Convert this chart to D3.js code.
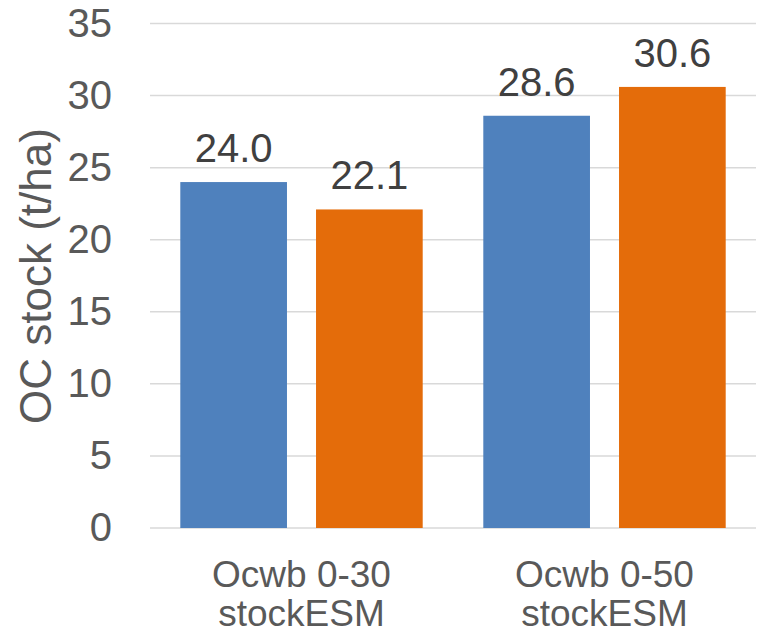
<!DOCTYPE html>
<html>
<head>
<meta charset="utf-8">
<script src="https://cdn.jsdelivr.net/npm/d3@7"></script>
<style>
  html, body { margin: 0; padding: 0; background: #fff; }
  svg { display: block; font-family: "Liberation Sans", Arial, sans-serif; }
</style>
</head>
<body>
<svg id="chart" width="759" height="633"></svg>
<script>
// Organic carbon stock by depth interval
const categories = ["Ocwb 0-30\nstockESM", "Ocwb 0-50\nstockESM"];
const seriesNames = ["blue", "orange"];
const seriesA = [24.0, 28.6];
const seriesB = [22.1, 30.6];
const yTicks = [0, 5, 10, 15, 20, 25, 30, 35];
const yTitle = "OC stock (t/ha)";
const colors = ["#4f81bd", "#e46c0a"];

const svg = d3.select("#chart");
const plotLeft = 150, plotRight = 756, plotTop = 23.5, plotBottom = 528;

const y = d3.scaleLinear().domain([0, 35]).range([plotBottom, plotTop]);
const x0 = d3.scaleBand().domain(categories).range([plotLeft, plotRight])
  .paddingInner(0.2).paddingOuter(0.1);
const x1 = d3.scaleBand().domain(seriesNames).range([0, x0.bandwidth()])
  .paddingInner(0.214).paddingOuter(0);

// gridlines
svg.append("g")
  .selectAll("line").data(yTicks).join("line")
  .attr("x1", plotLeft).attr("x2", plotRight)
  .attr("y1", d => y(d)).attr("y2", d => y(d))
  .attr("stroke", "#d9d9d9").attr("stroke-width", 1.5);

// y axis tick labels
const yAxis = d3.axisLeft(y).tickValues(yTicks).tickSize(0).tickPadding(0);
const ga = svg.append("g").attr("transform", "translate(112,0)").call(yAxis);
ga.select(".domain").remove();
ga.selectAll("text")
  .attr("font-size", 40).attr("fill", "#595959")
  .attr("font-family", "Liberation Sans, Arial, sans-serif");

// y axis title
svg.append("text")
  .attr("transform", "translate(51,276) rotate(-90)")
  .attr("text-anchor", "middle")
  .attr("font-size", 44).attr("fill", "#595959")
  .text(yTitle);

// bars
const rows = categories.map((c, i) => ({ cat: c, vals: [seriesA[i], seriesB[i]] }));
const groups = svg.append("g").selectAll("g").data(rows).join("g")
  .attr("transform", d => `translate(${x0(d.cat)},0)`);

groups.selectAll("rect").data(d => d.vals.map((v, j) => ({ v, s: seriesNames[j], c: colors[j] })))
  .join("rect")
  .attr("x", d => x1(d.s)).attr("width", x1.bandwidth())
  .attr("y", d => y(d.v)).attr("height", d => y(0) - y(d.v))
  .attr("fill", d => d.c);

groups.selectAll("text.val").data(d => d.vals.map((v, j) => ({ v, s: seriesNames[j] })))
  .join("text").attr("class", "val")
  .attr("x", d => x1(d.s) + x1.bandwidth() / 2)
  .attr("y", d => y(d.v) - 20)
  .attr("text-anchor", "middle")
  .attr("font-size", 40).attr("fill", "#404040")
  .text(d => d.v.toFixed(1));

// category labels
const cl = svg.append("g").selectAll("text").data(categories).join("text")
  .attr("x", d => x0(d) + x0.bandwidth() / 2)
  .attr("y", 587)
  .attr("text-anchor", "middle")
  .attr("font-size", 37).attr("fill", "#595959");
cl.selectAll("tspan").data(d => d.split("\n")).join("tspan")
  .attr("x", function() { return d3.select(this.parentNode).attr("x"); })
  .attr("dy", (d, i) => i === 0 ? 0 : 39)
  .text(d => d);
</script>
</body>
</html>
